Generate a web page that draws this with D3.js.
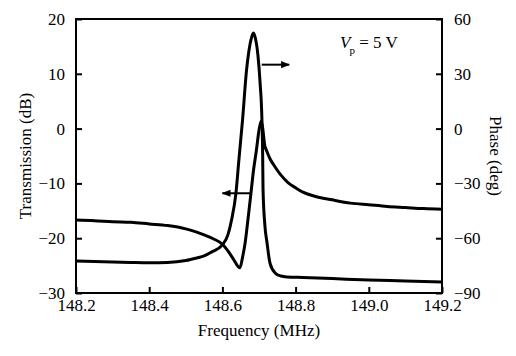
<!DOCTYPE html>
<html>
<head>
<meta charset="utf-8">
<script src="https://cdn.jsdelivr.net/npm/d3@7/dist/d3.min.js"></script>
<style>
  html, body { margin: 0; padding: 0; background: #fff; }
  svg { display: block; }
  text { font-family: "Liberation Serif", "Times New Roman", serif; fill: #000; }
</style>
</head>
<body>
<svg id="chart" width="516" height="356"></svg>
<script>
// ---- Data ----
const xTicks = [148.2, 148.4, 148.6, 148.8, 149.0, 149.2];
const xTickLabels = ["148.2", "148.4", "148.6", "148.8", "149.0", "149.2"];
const leftTicks = [20, 10, 0, -10, -20, -30];
const leftTickLabels = ["20", "10", "0", "\u221210", "\u221220", "\u221230"];
const rightTicks = [60, 30, 0, -30, -60, -90];
const rightTickLabels = ["60", "30", "0", "\u221230", "\u221260", "\u221290"];

// Transmission (dB) vs frequency (MHz)
const transFreq = [148.20, 148.25, 148.30, 148.35, 148.40, 148.45, 148.50, 148.53, 148.55, 148.575,
  148.60, 148.615, 148.63, 148.648, 148.655, 148.662, 148.670, 148.678, 148.685, 148.693,
  148.700, 148.706, 148.710, 148.716, 148.72, 148.73, 148.74, 148.75, 148.76, 148.78,
  148.80, 148.82, 148.85, 148.90, 148.95, 149.00, 149.05, 149.10, 149.15, 149.20];
const transDb = [-16.7, -16.8, -17.0, -17.1, -17.4, -17.7, -18.3, -18.9, -19.4, -20.1,
  -21.1, -22.3, -23.8, -25.4, -23.5, -20.9, -16.5, -11.8, -7.6, -3.9,
  -0.3, 1.4, 0.1, -3.2, -3.9, -5.5, -6.6, -7.6, -8.5, -9.9,
  -10.8, -11.6, -12.3, -13.0, -13.6, -13.9, -14.2, -14.4, -14.6, -14.7];

// Phase (deg) vs frequency (MHz)
const phaseFreq = [148.20, 148.25, 148.30, 148.35, 148.40, 148.45, 148.50, 148.53, 148.55, 148.57,
  148.60, 148.615, 148.625, 148.637, 148.645, 148.655, 148.666, 148.672, 148.680, 148.685,
  148.690, 148.697, 148.703, 148.708, 148.710, 148.711, 148.716, 148.722, 148.730, 148.744,
  148.760, 148.776, 148.82, 148.90, 149.00, 149.10, 149.20];
const phaseDeg = [-72.5, -72.8, -73.0, -73.3, -73.5, -73.3, -72.2, -70.8, -69.7, -67.6,
  -63.7, -58.2, -50.0, -35.3, -17.2, 4.7, 32.1, 41.9, 50.1, 52.3,
  49.6, 40.3, 25.0, 4.7, -14.0, -33.0, -52.8, -62.6, -73.6, -79.0,
  -80.7, -81.2, -81.5, -82.1, -82.9, -83.4, -84.0];

const annotation = { main: "V", sub: "p", rest: " = 5 V" };
const xTitle = "Frequency (MHz)";
const yLeftTitle = "Transmission (dB)";
const yRightTitle = "Phase (deg)";

// ---- Layout ----
const margin = { left: 76, right: 516 - 442, top: 19, bottom: 356 - 293 };
const W = 516, H = 356;
const iw = W - margin.left - margin.right;
const ih = H - margin.top - margin.bottom;

const svg = d3.select("#chart");
const g = svg.append("g").attr("transform", `translate(${margin.left},${margin.top})`);

const x = d3.scaleLinear().domain([148.2, 149.2]).range([0, iw]);
const yL = d3.scaleLinear().domain([-30, 20]).range([ih, 0]);
const yR = d3.scaleLinear().domain([-90, 60]).range([ih, 0]);

const fontSize = 17;
const tickLen = 6;

const xAxis = d3.axisBottom(x).tickValues(xTicks)
  .tickFormat((d, i) => xTickLabels[i]).tickSizeInner(-tickLen).tickSizeOuter(0).tickPadding(tickLen + 3);
const gx = g.append("g").attr("transform", `translate(0,${ih})`).call(xAxis);

const yAxisL = d3.axisLeft(yL).tickValues(leftTicks)
  .tickFormat((d, i) => leftTickLabels[i]).tickSizeInner(-tickLen).tickSizeOuter(0).tickPadding(tickLen + 5);
const gyl = g.append("g").call(yAxisL);

const yAxisR = d3.axisRight(yR).tickValues(rightTicks)
  .tickFormat((d, i) => rightTickLabels[i]).tickSizeInner(-tickLen).tickSizeOuter(0).tickPadding(tickLen + 6);
const gyr = g.append("g").attr("transform", `translate(${iw},0)`).call(yAxisR);

[gx, gyl, gyr].forEach(a => {
  a.selectAll(".domain").remove();
  a.selectAll(".tick line").attr("stroke", "#000").attr("stroke-width", 2);
  a.selectAll(".tick text").attr("font-size", fontSize)
    .style("font-family", '"Liberation Serif", "Times New Roman", serif').attr("fill", "#000");
});
gx.selectAll(".tick text").attr("dy", "0.55em");

// Frame
g.append("rect").attr("x", 0).attr("y", 0).attr("width", iw).attr("height", ih)
  .attr("fill", "none").attr("stroke", "#000").attr("stroke-width", 2);

// Curves
const transData = transFreq.map((f, i) => [f, transDb[i]]);
const phaseData = phaseFreq.map((f, i) => [f, phaseDeg[i]]);

const lineT = d3.line().x(d => x(d[0])).y(d => yL(d[1])).curve(d3.curveMonotoneX);
const lineP = d3.line().x(d => x(d[0])).y(d => yR(d[1])).curve(d3.curveMonotoneX);

g.append("path").datum(transData).attr("d", lineT)
  .attr("fill", "none").attr("stroke", "#000").attr("stroke-width", 3).attr("stroke-linejoin", "round");
g.append("path").datum(phaseData).attr("d", lineP)
  .attr("fill", "none").attr("stroke", "#000").attr("stroke-width", 3).attr("stroke-linejoin", "round");

// Arrows
const defs = svg.append("defs");
defs.append("marker").attr("id", "ah").attr("viewBox", "0 0 10 10")
  .attr("refX", 9).attr("refY", 5).attr("markerWidth", 4.5).attr("markerHeight", 4.5)
  .attr("markerUnits", "strokeWidth").attr("orient", "auto")
  .append("path").attr("d", "M0,1 L10,5 L0,9 Z").attr("fill", "#000");

const arrowR = { f0: 148.7075, f1: 148.7825, v: 35 };   // phase units
g.append("line")
  .attr("x1", x(arrowR.f0)).attr("x2", x(arrowR.f1))
  .attr("y1", yR(arrowR.v)).attr("y2", yR(arrowR.v))
  .attr("stroke", "#000").attr("stroke-width", 2).attr("marker-end", "url(#ah)");

const arrowL = { f0: 148.6765, f1: 148.6, v: -11.8 };   // dB units
g.append("line")
  .attr("x1", x(arrowL.f0)).attr("x2", x(arrowL.f1))
  .attr("y1", yL(arrowL.v)).attr("y2", yL(arrowL.v))
  .attr("stroke", "#000").attr("stroke-width", 2).attr("marker-end", "url(#ah)");

// Annotation
const ann = svg.append("text").attr("x", 340).attr("y", 48).attr("font-size", fontSize);
ann.append("tspan").attr("font-style", "italic").text(annotation.main);
ann.append("tspan").attr("font-size", 11).attr("dy", 6).attr("dx", -1).text(annotation.sub);
ann.append("tspan").attr("dy", -6).text(annotation.rest);

// Axis titles
svg.append("text").attr("x", margin.left + iw / 2).attr("y", 336)
  .attr("text-anchor", "middle").attr("font-size", fontSize).text(xTitle);
svg.append("text").attr("transform", `translate(31,${margin.top + ih / 2}) rotate(-90)`)
  .attr("text-anchor", "middle").attr("font-size", fontSize).text(yLeftTitle);
svg.append("text").attr("transform", `translate(490,${margin.top + ih / 2}) rotate(90)`)
  .attr("text-anchor", "middle").attr("font-size", fontSize).text(yRightTitle);
</script>
</body>
</html>
